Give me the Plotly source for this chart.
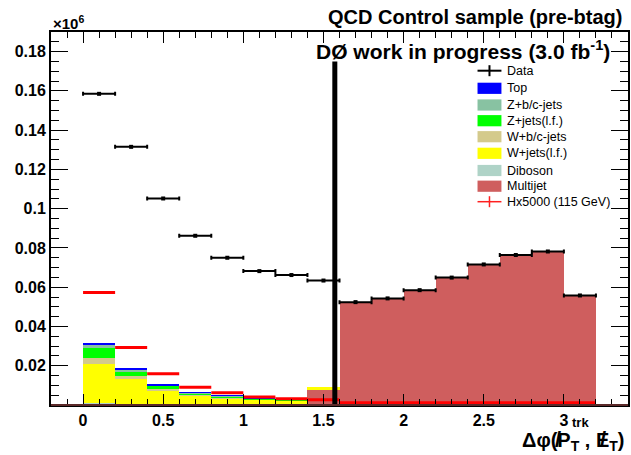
import numpy as np
import plotly.graph_objects as go

# Binning: 16 bins of width 0.2 in delta-phi, from 0 to 3.2
bin_edges = np.round(np.arange(0.0, 3.2001, 0.2), 3)
bin_centers = (bin_edges[:-1] + bin_edges[1:]) / 2
bin_width = 0.2

# Event counts in units of 1e6
data_counts = [0.1585, 0.1315, 0.1052, 0.0862, 0.0750, 0.0682, 0.0662, 0.0634,
               0.0524, 0.0543, 0.0585, 0.0649, 0.0716, 0.0764, 0.0782, 0.0558]

multijet = [0.0002, 0.0002, 0.0001, 0.0001, 0.0001, 0.0001, 0.0001, 0.0076,
            0.0524, 0.0543, 0.0585, 0.0649, 0.0716, 0.0764, 0.0782, 0.0558]
diboson = [0.0006, 0.0004, 0.0003, 0.0002, 0.0002, 0.0001, 0.0001, 0.0,
           0, 0, 0, 0, 0, 0, 0, 0]
wjets_lf = [0.0200, 0.0124, 0.0070, 0.0043, 0.0031, 0.0024, 0.0020, 0.0017,
            0, 0, 0, 0, 0, 0, 0, 0]
wbc_jets = [0.0030, 0.0018, 0.0008, 0.0005, 0.0004, 0.0003, 0.0002, 0.0,
            0, 0, 0, 0, 0, 0, 0, 0]
zjets_lf = [0.0054, 0.0024, 0.0015, 0.0010, 0.0006, 0.0003, 0.0002, 0.0,
            0, 0, 0, 0, 0, 0, 0, 0]
zbc_jets = [0.0016, 0.0010, 0.0004, 0.0003, 0.0002, 0.0001, 0.0001, 0.0,
            0, 0, 0, 0, 0, 0, 0, 0]
top = [0.0005, 0.0003, 0.0004, 0.0002, 0.0002, 0.0001, 0.0001, 0.0,
       0, 0, 0, 0, 0, 0, 0, 0]

# Higgs signal (115 GeV) scaled by 5000
signal_x5000 = [0.0573, 0.0293, 0.0159, 0.0091, 0.0062, 0.0041, 0.0032, 0.0027,
                0.0011, 0.0011, 0.0011, 0.0011, 0.0011, 0.0011, 0.0011, 0.0011]

cut_phi = np.pi / 2
cut_line_top = 0.175

y_tick_vals = [0.02, 0.04, 0.06, 0.08, 0.10, 0.12, 0.14, 0.16, 0.18]
y_tick_text = ["0.02", "0.04", "0.06", "0.08", "0.1", "0.12", "0.14", "0.16", "0.18"]

# stacked from bottom to top
stack = [
    ("Multijet", multijet, "#cf5e5e"),
    ("Diboson", diboson, "#afd3c7"),
    ("W+jets(l.f.)", wjets_lf, "#ffff00"),
    ("W+b/c-jets", wbc_jets, "#d4ca8c"),
    ("Z+jets(l.f.)", zjets_lf, "#00ff00"),
    ("Z+b/c-jets", zbc_jets, "#88c2a2"),
    ("Top", top, "#0000ff"),
]

FONT = "Liberation Sans"
W, H = 631, 455
L, R, T, B = 51, 1, 32, 50
PW, PH = W - L - R, H - T - B


def px(x):
    return (x - L) / PW


def py(y):
    return (H - B - y) / PH


fig = go.Figure()

for name, vals, color in stack:
    fig.add_trace(go.Bar(
        x=bin_centers, y=vals, width=bin_width, name=name,
        marker=dict(color=color, line=dict(width=0)),
        showlegend=False,
    ))

fig.add_trace(go.Scatter(
    x=bin_centers, y=signal_x5000, mode="markers", name="Hx5000 (115 GeV)",
    marker=dict(size=1, color="#ff0000"),
    error_x=dict(type="constant", value=bin_width / 2, width=0,
                 thickness=3, color="#ff0000"),
    showlegend=False,
))

fig.add_trace(go.Scatter(
    x=bin_centers, y=data_counts, mode="markers", name="Data",
    marker=dict(size=4, symbol="square", color="black"),
    error_x=dict(type="constant", value=bin_width / 2, width=2,
                 thickness=2, color="black"),
    showlegend=False,
))

shapes = []
annotations = []

# cut at delta-phi = pi/2
shapes.append(dict(type="line", xref="x", yref="y", x0=cut_phi, x1=cut_phi,
                   y0=0, y1=cut_line_top, line=dict(color="black", width=5),
                   layer="above"))

# bottom frame line
shapes.append(dict(type="line", xref="paper", yref="paper", x0=0, x1=1,
                   y0=0, y1=0, line=dict(color="#5c2a2a", width=2),
                   layer="above"))

# legend
legend_x0, legend_x1 = 479, 503
legend_text_x = 507
legend_rows = [
    ("Data", 70.7, "cross", "black"),
    ("Top", 88.3, "box", "#0000ff"),
    ("Z+b/c-jets", 105.0, "box", "#88c2a2"),
    ("Z+jets(l.f.)", 120.7, "box", "#00ff00"),
    ("W+b/c-jets", 136.7, "box", "#d4ca8c"),
    ("W+jets(l.f.)", 153.3, "box", "#ffff00"),
    ("Diboson", 170.5, "box", "#afd3c7"),
    ("Multijet", 186.2, "box", "#cf5e5e"),
    ("Hx5000 (115 GeV)", 201.7, "cross", "#ff2020"),
]
for label, yc, kind, color in legend_rows:
    if kind == "box":
        shapes.append(dict(type="rect", xref="paper", yref="paper",
                           x0=px(legend_x0), x1=px(legend_x1),
                           y0=py(yc + 5.6), y1=py(yc - 5.6),
                           fillcolor=color, line=dict(width=0), layer="above"))
    else:
        lw = 2 if color == "black" else 1.5
        shapes.append(dict(type="line", xref="paper", yref="paper",
                           x0=px(legend_x0), x1=px(legend_x1),
                           y0=py(yc), y1=py(yc),
                           line=dict(color=color, width=lw), layer="above"))
        xm = (legend_x0 + legend_x1) / 2
        shapes.append(dict(type="line", xref="paper", yref="paper",
                           x0=px(xm), x1=px(xm),
                           y0=py(yc + 5.5), y1=py(yc - 5.5),
                           line=dict(color=color, width=lw), layer="above"))
    annotations.append(dict(xref="paper", yref="paper", x=px(legend_text_x),
                            y=py(yc), text=label, showarrow=False,
                            xanchor="left", yanchor="middle",
                            font=dict(family=FONT, size=12.5, color="black")))

# titles
annotations.append(dict(xref="paper", yref="paper", x=px(626), y=py(16.5),
                        text="<b>QCD Control sample (pre-btag)</b>",
                        showarrow=False, xanchor="right", yanchor="middle",
                        font=dict(family=FONT, size=20, color="black")))
annotations.append(dict(xref="paper", yref="paper", x=px(614), y=py(49.5),
                        text="<b>DØ work in progress (3.0 fb<sup>-1</sup>)</b>",
                        showarrow=False, xanchor="right", yanchor="middle",
                        font=dict(family=FONT, size=21, color="black")))
annotations.append(dict(xref="paper", yref="paper", x=px(51), y=py(23),
                        text="<b>×10<sup>6</sup></b>",
                        showarrow=False, xanchor="left", yanchor="middle",
                        font=dict(family=FONT, size=15, color="black")))
# x-axis title, with slashes drawn through P and E
annotations.append(dict(xref="paper", yref="paper", x=px(629), y=py(441),
                        text="<b>Δφ(P<sub>T</sub> , E<sub>T</sub>)</b>",
                        showarrow=False, xanchor="right", yanchor="middle",
                        font=dict(family=FONT, size=20, color="black")))
for slash_x in (560, 605):
    annotations.append(dict(xref="paper", yref="paper", x=px(slash_x),
                            y=py(439), text="<b>/</b>", showarrow=False,
                            xanchor="center", yanchor="middle",
                            font=dict(family=FONT, size=22, color="black")))
annotations.append(dict(xref="paper", yref="paper", x=px(582), y=py(422),
                        text="<b>trk</b>",
                        showarrow=False, xanchor="center", yanchor="middle",
                        font=dict(family=FONT, size=13, color="black")))

tick_font = dict(family=FONT, size=16, color="black", weight="bold")

fig.update_layout(
    width=W, height=H,
    margin=dict(l=L, r=R, t=T, b=B, pad=0),
    paper_bgcolor="white", plot_bgcolor="white",
    barmode="stack", bargap=0,
    showlegend=False,
    shapes=shapes, annotations=annotations,
    xaxis=dict(
        range=[-0.2, 3.4], tickmode="linear", tick0=0, dtick=0.5,
        ticks="inside", ticklen=11, tickwidth=1, tickcolor="black",
        minor=dict(tickmode="linear", tick0=0, dtick=0.1, ticks="inside",
                   ticklen=6, tickwidth=1, tickcolor="black"),
        showline=True, linewidth=2, linecolor="black", mirror="allticks",
        showgrid=False, zeroline=False, tickfont=tick_font,
    ),
    yaxis=dict(
        range=[0, 0.19], tickmode="array", tickvals=y_tick_vals,
        ticktext=y_tick_text,
        ticks="inside", ticklen=17, tickwidth=1, tickcolor="black",
        minor=dict(tickmode="linear", tick0=0, dtick=0.005, ticks="inside",
                   ticklen=8, tickwidth=1, tickcolor="black"),
        showline=True, linewidth=2, linecolor="black", mirror="allticks",
        showgrid=False, zeroline=False, tickfont=tick_font,
    ),
)

fig.write_html("out.html")
